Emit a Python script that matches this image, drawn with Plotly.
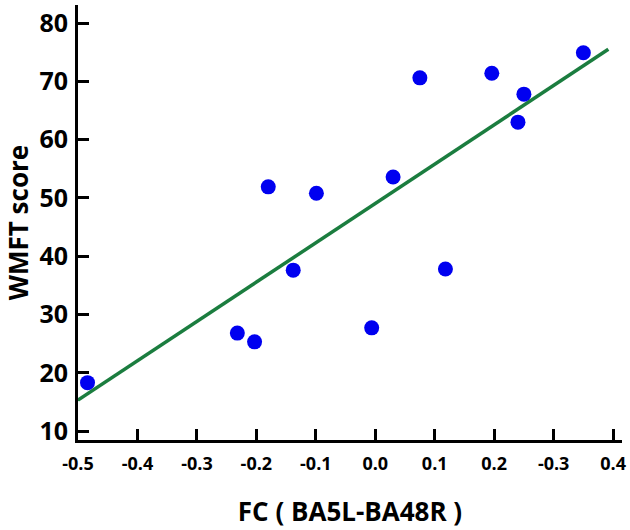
import plotly.graph_objects as go

# Data
fc = [-0.484, -0.232, -0.203, -0.180, -0.138, -0.099, -0.006, 0.030, 0.075, 0.118, 0.196, 0.240, 0.250, 0.350]
wmft = [18.3, 26.8, 25.3, 51.9, 37.6, 50.8, 27.7, 53.6, 70.6, 37.8, 71.4, 63.0, 67.8, 74.9]

fit_x = [-0.5, 0.392]
fit_y = [15.3, 75.5]

x_tickvals = [-0.5, -0.4, -0.3, -0.2, -0.1, 0.0, 0.1, 0.2, 0.3, 0.4]
x_ticktext = ["-0.5", "-0.4", "-0.3", "-0.2", "-0.1", "0.0", "0.1", "0.2", "-0.3", "0.4"]
y_tickvals = [10, 20, 30, 40, 50, 60, 70, 80]
y_ticktext = ["10", "20", "30", "40", "50", "60", "70", "80"]

FONT = "Open Sans"

fig = go.Figure()
fig.add_trace(go.Scatter(
    x=fit_x, y=fit_y, mode="lines",
    line=dict(color="#1b7d3f", width=3.5),
    hoverinfo="skip", showlegend=False,
))
fig.add_trace(go.Scatter(
    x=fc, y=wmft, mode="markers",
    marker=dict(color="#0000f0", size=15, line=dict(width=0)),
    showlegend=False,
))

fig.update_layout(
    width=630, height=530,
    margin=dict(l=78, r=8, t=5, b=90),
    paper_bgcolor="white", plot_bgcolor="white",
    font=dict(family=FONT, color="black"),
)
fig.update_xaxes(
    range=[-0.5, 0.415], automargin=False,
    tickvals=x_tickvals, ticktext=x_ticktext,
    showgrid=False, zeroline=False,
    showline=True, linecolor="black", linewidth=3,
    ticks="inside", ticklen=11, tickwidth=3, tickcolor="black",
    tickfont=dict(family=FONT, size=18, color="black", weight="bold"),
    ticklabelstandoff=5,
    title=dict(text="FC ( BA5L-BA48R )", standoff=30,
               font=dict(family=FONT, size=26, color="black", weight="bold")),
)
fig.update_yaxes(
    range=[8.46, 83.1], automargin=False,
    tickvals=y_tickvals, ticktext=y_ticktext,
    showgrid=False, zeroline=False,
    showline=True, linecolor="black", linewidth=3,
    ticks="inside", ticklen=11, tickwidth=3, tickcolor="black",
    tickfont=dict(family=FONT, size=25, color="black", weight="bold"),
    ticklabelstandoff=2,
    title=dict(text="WMFT score", standoff=10,
               font=dict(family=FONT, size=26, color="black", weight="bold")),
)

fig.write_html(
    "out.html",
    config={"displayModeBar": False},
    post_script="document.body.style.margin='0';document.body.style.padding='0';",
)
